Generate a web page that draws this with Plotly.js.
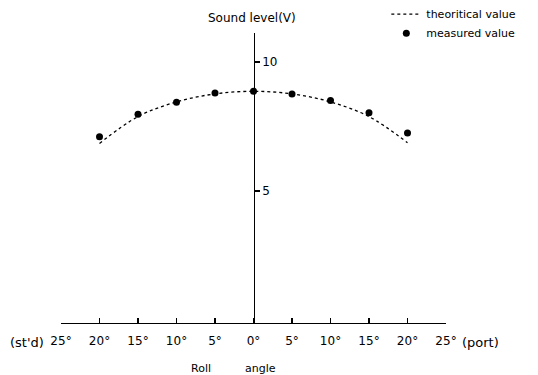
<!DOCTYPE html>
<html>
<head>
<meta charset="utf-8">
<script src="https://cdn.plot.ly/plotly-3.0.1.min.js"></script>
<style>html,body{margin:0;padding:0;background:#fff;}#chart{width:538px;height:375px;}</style>
</head>
<body>
<div id="chart"></div>
<script>
// Roll angle (deg), negative = starboard, positive = port
const rollAngles = [-20, -15, -10, -5, 0, 5, 10, 15, 20];
const measuredValues = [7.10, 7.97, 8.44, 8.79, 8.86, 8.76, 8.50, 8.03, 7.24];
const theoreticalValues = [6.84, 7.88, 8.45, 8.76, 8.86, 8.76, 8.45, 7.88, 6.87];
const xTickVals = [-25, -20, -15, -10, -5, 0, 5, 10, 15, 20, 25];
const xTickText = ["25°", "20°", "15°", "10°", "5°", "0°", "5°", "10°", "15°", "20°", "25°"];
const yTickVals = [5, 10];
const yTickText = ["5", "10"];

const FONT = "DejaVu Sans, Verdana, sans-serif";

const traces = [
  {
    x: rollAngles, y: theoreticalValues, type: "scatter", mode: "lines",
    name: "theoritical value",
    line: {color: "#000", width: 1.3, dash: "3px,3px", shape: "spline", smoothing: 1},
    hoverinfo: "skip"
  },
  {
    x: rollAngles, y: measuredValues, type: "scatter", mode: "markers",
    name: "measured value",
    marker: {color: "#000", size: 7}
  }
];

const layout = {
  width: 538, height: 375,
  margin: {l: 61, r: 92, t: 33, b: 52, autoexpand: false},
  paper_bgcolor: "#fff", plot_bgcolor: "#fff",
  font: {family: FONT, size: 12, color: "#000"},
  showlegend: true,
  legend: {
    x: 0.845, y: 1.115, xanchor: "left", yanchor: "top",
    font: {family: FONT, size: 11, color: "#000"},
    bgcolor: "rgba(0,0,0,0)", itemwidth: 30, tracegroupgap: 0
  },
  xaxis: {
    range: [-25, 25], tickvals: xTickVals, ticktext: xTickText,
    anchor: "free", position: 0,
    showgrid: false, zeroline: false, showline: true, linecolor: "#000", linewidth: 1.3,
    ticks: "inside", ticklen: 5, tickcolor: "#000", tickwidth: 1.3,
    ticklabelstandoff: 6,
    tickfont: {family: FONT, size: 12, color: "#000"},
    fixedrange: true
  },
  yaxis: {
    range: [-0.12, 11.12], tickvals: yTickVals, ticktext: yTickText,
    anchor: "free", position: 0.5, side: "right",
    showgrid: false, zeroline: false, showline: true, linecolor: "#000", linewidth: 1.3,
    ticks: "outside", ticklen: 5, tickcolor: "#000", tickwidth: 1.3,
    tickfont: {family: FONT, size: 12, color: "#000"},
    fixedrange: true
  },
  annotations: [
    {text: "Sound level(V)", xref: "paper", yref: "paper", x: 0.496, y: 1.0, yshift: 6,
     xanchor: "center", yanchor: "bottom", showarrow: false, font: {family: FONT, size: 12}},
    {text: "(st'd)", xref: "paper", yref: "paper", x: 0, y: 0, xshift: -34, yshift: -19,
     xanchor: "center", yanchor: "middle", showarrow: false, font: {family: FONT, size: 13}},
    {text: "(port)", xref: "paper", yref: "paper", x: 1, y: 0, xshift: 34, yshift: -19,
     xanchor: "center", yanchor: "middle", showarrow: false, font: {family: FONT, size: 13}},
    {text: "Roll", xref: "paper", yref: "paper", x: 0.364, y: 0, yshift: -45,
     xanchor: "center", yanchor: "middle", showarrow: false, font: {family: FONT, size: 11}},
    {text: "angle", xref: "paper", yref: "paper", x: 0.517, y: 0, yshift: -45,
     xanchor: "center", yanchor: "middle", showarrow: false, font: {family: FONT, size: 11}}
  ]
};

Plotly.newPlot("chart", traces, layout, {displayModeBar: false, staticPlot: true});
</script>
</body>
</html>
